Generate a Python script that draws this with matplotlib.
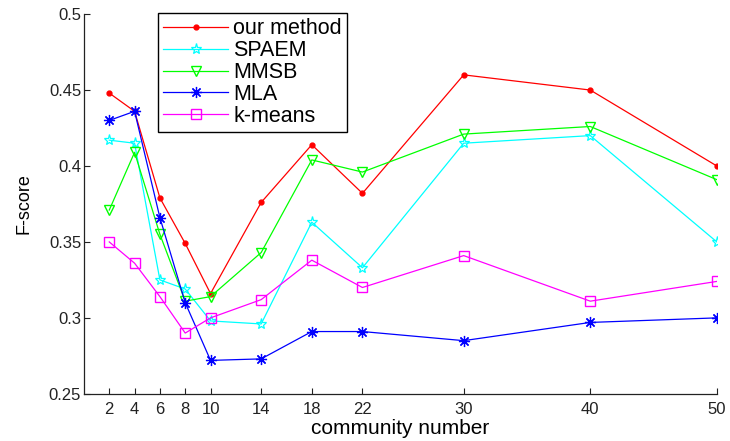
import matplotlib.pyplot as plt

plt.rcParams['font.family'] = ['Liberation Sans', 'DejaVu Sans']

community = [2, 4, 6, 8, 10, 14, 18, 22, 30, 40, 50]
our_method = [0.448, 0.436, 0.379, 0.349, 0.316, 0.376, 0.414, 0.382, 0.460, 0.450, 0.400]
spaem = [0.417, 0.415, 0.325, 0.319, 0.298, 0.296, 0.363, 0.333, 0.415, 0.420, 0.350]
mmsb = [0.371, 0.409, 0.355, 0.311, 0.314, 0.343, 0.404, 0.396, 0.421, 0.426, 0.391]
mla = [0.430, 0.436, 0.366, 0.310, 0.272, 0.273, 0.291, 0.291, 0.285, 0.297, 0.300]
kmeans = [0.350, 0.336, 0.314, 0.290, 0.300, 0.312, 0.338, 0.320, 0.341, 0.311, 0.324]

fig = plt.figure(figsize=(7.30, 4.41), dpi=100)
ax = fig.add_axes([0.115, 0.107, 0.867, 0.861])

lw = 0.9
ax.plot(community, our_method, color='#ff0000', lw=lw, marker='o', ms=3.5, label='our method')
ax.plot(community, spaem, color='#00ffff', lw=lw, marker='*', ms=8, mfc='none', mew=0.9, label='SPAEM')
ax.plot(community, mmsb, color='#00ff00', lw=lw, marker='v', ms=7, mfc='none', label='MMSB')
ax.plot(community, mla, color='#0000ff', lw=lw, marker=(8, 2, 0), ms=8, mew=0.9, label='MLA')
ax.plot(community, kmeans, color='#ff00ff', lw=lw, marker='s', ms=7, mfc='none', label='k-means')

ax.set_xlim(0, 50)
ax.set_ylim(0.25, 0.5)
ax.set_xticks(community)
ax.set_yticks([0.25, 0.3, 0.35, 0.4, 0.45, 0.5])
ax.set_yticklabels(['0.25', '0.3', '0.35', '0.4', '0.45', '0.5'])
ax.tick_params(direction='in', length=4, labelsize=12, colors='#222222')
ax.tick_params(axis='x', pad=6)
ax.tick_params(axis='y', pad=2)
ax.spines['top'].set_visible(False)
ax.spines['right'].set_visible(False)
for s in ['left', 'bottom']:
    ax.spines[s].set_color('#222222')
    ax.spines[s].set_linewidth(0.9)

ax.set_xlabel('community number', fontsize=15, labelpad=1)
ax.set_ylabel('F-score', fontsize=13, labelpad=12)

leg = ax.legend(loc='upper left', bbox_to_anchor=(0.117, 1.003), fontsize=15.5,
                handlelength=3.0, handletextpad=0.25, labelspacing=0.04,
                borderpad=0.25, borderaxespad=0, fancybox=False, framealpha=1,
                edgecolor='black')
leg.get_frame().set_linewidth(1.0)

fig.savefig('out.png', dpi=100)
